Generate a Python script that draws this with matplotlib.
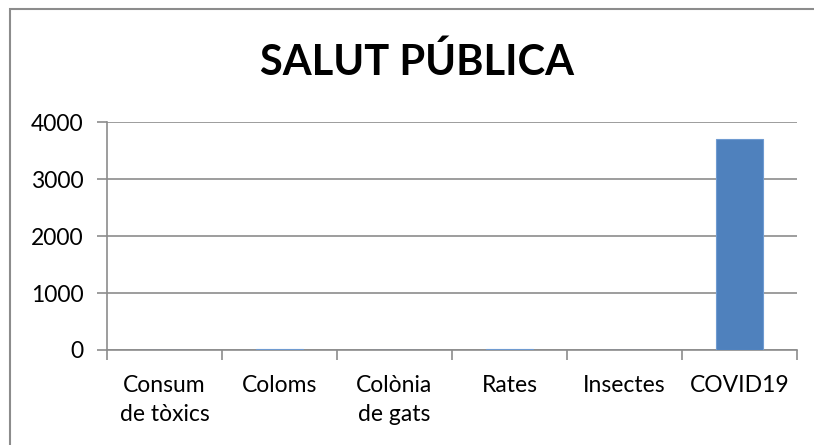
import numpy as np
import matplotlib.pyplot as plt
from matplotlib.patches import Rectangle

categories = ['Consum\nde tòxics', 'Coloms', 'Colònia\nde gats', 'Rates', 'Insectes', 'COVID19']
values = [2, 12, 2, 12, 2, 3700]
yticks = [0, 1000, 2000, 3000, 4000]

plt.rcParams['font.family'] = ['Lato', 'DejaVu Sans']

fig = plt.figure(figsize=(8.14, 4.45), dpi=100)
ax = fig.add_axes([107/814, 1 - 350/445, 690/814, 228/445])

x = np.arange(len(categories))
ax.bar(x, values, width=0.41, color='#4f81bd', edgecolor='#6f9bd1', linewidth=0.8, zorder=3)

ax.set_xlim(-0.5, len(categories) - 0.5)
ax.set_ylim(0, 4000)
ax.set_yticks(yticks)
ax.set_yticklabels([str(t) for t in yticks], fontsize=16.5)
ax.yaxis.grid(True, color='#8c8c8c', linewidth=1.2)
ax.set_axisbelow(True)

ax.set_xticks(x)
ax.set_xticklabels(categories, fontsize=16.5, linespacing=1.45, va='top')
ax.set_xticks(np.arange(-0.5, len(categories)), minor=True)
ax.tick_params(axis='x', which='major', length=0, pad=18)
ax.tick_params(axis='x', which='minor', length=7, width=1.2, color='#8c8c8c')
ax.tick_params(axis='y', length=7, width=1.2, color='#8c8c8c', pad=10)

for s in ['top', 'right']:
    ax.spines[s].set_visible(False)
for s in ['left', 'bottom']:
    ax.spines[s].set_color('#8c8c8c')
    ax.spines[s].set_linewidth(1.2)

fig.text(417/814, 1 - 62/445, 'SALUT PÚBLICA', fontsize=30, fontweight='bold',
         ha='center', va='center')

fig.patches.append(Rectangle((10/814, -0.1), 1.2, 1 - 9/445 + 0.1, transform=fig.transFigure,
                             fill=False, edgecolor='#8c8c8c', linewidth=1.5))

plt.savefig('out.png', dpi=100)
